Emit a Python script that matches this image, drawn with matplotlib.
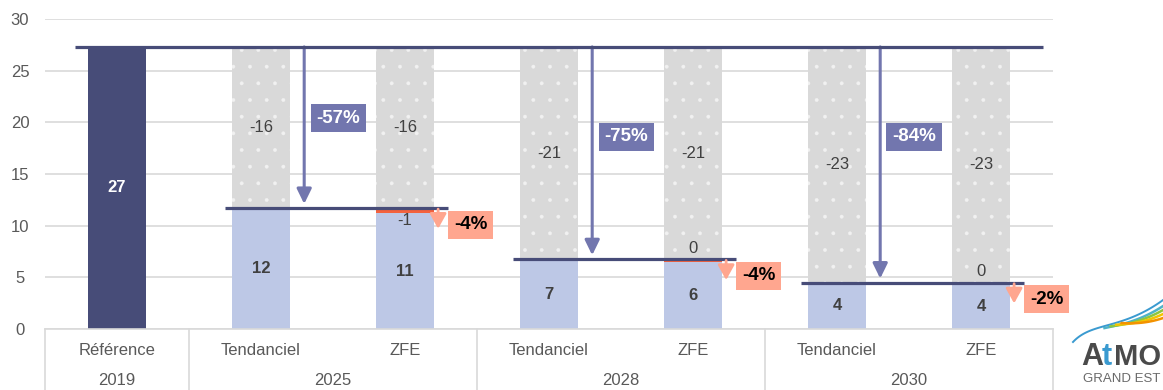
import numpy as np
import matplotlib.pyplot as plt
import matplotlib.transforms as mtransforms

plt.rcParams['font.family'] = ['Liberation Sans', 'DejaVu Sans']
plt.rcParams['hatch.linewidth'] = 0.3

# emissions (kt) par scénario
categories = ["Référence", "Tendanciel", "ZFE", "Tendanciel", "ZFE", "Tendanciel", "ZFE"]
years = ["2019", "2025", "2028", "2030"]
reference = 27.3
tendanciel = [11.7, 6.74, 4.48]
zfe = [11.18, 6.47, 4.39]

NAVY = "#474C78"
LIGHT = "#BDC8E6"
GREY = "#D9D9D9"
RED = "#F4623E"
ARROW = "#7276AE"
SALMON = "#FFA68F"
TEXT = "#404040"
AXTXT = "#595959"
DOTS = "#F1F1F1"

W, H = 1163, 390
fig = plt.figure(figsize=(W / 100, H / 100), dpi=100)
ax = fig.add_axes([45 / W, 61 / H, 1008 / W, 310 / H])
ax.set_xlim(-0.5, 6.5)
ax.set_ylim(0, 30)

bw = 0.4

# barre de référence
ax.bar(0, reference, bw, color=NAVY, zorder=2)
ax.text(0, reference / 2, f"{round(reference)}", ha='center', va='center',
        color='white', fontsize=12, fontweight='bold', zorder=5)

for i, (t, z) in enumerate(zip(tendanciel, zfe)):
    xt, xz = 1 + 2 * i, 2 + 2 * i
    gain = reference - t
    # tendanciel
    ax.bar(xt, t, bw, color=LIGHT, zorder=2)
    ax.bar(xt, gain, bw, bottom=t, color=GREY, hatch='.', edgecolor=DOTS,
           linewidth=0, zorder=2)
    # ZFE
    ax.bar(xz, z, bw, color=LIGHT, zorder=2)
    ax.bar(xz, t - z, bw, bottom=z, color=RED, linewidth=0, zorder=2)
    ax.bar(xz, gain, bw, bottom=t, color=GREY, hatch='.', edgecolor=DOTS,
           linewidth=0, zorder=2)

    for xb in (xt, xz):
        ax.text(xb, t + gain / 2, f"{-round(gain)}", ha='center', va='center',
                color=TEXT, fontsize=12, zorder=5)
    ax.text(xt, t / 2, f"{round(t)}", ha='center', va='center',
            color=TEXT, fontsize=12, fontweight='bold', zorder=5)
    ax.text(xz, z / 2, f"{round(z)}", ha='center', va='center',
            color=TEXT, fontsize=12, fontweight='bold', zorder=5)

    # écart ZFE / tendanciel
    dy = -12 if i == 0 else 11
    ax.annotate(f"{round(z - t)}", xy=(xz, t), xytext=(0, dy / 1.389),
                textcoords='offset points', ha='center', va='center',
                color=TEXT, fontsize=12, zorder=5)

    # niveau tendanciel
    ax.plot([xt - 0.25, xz + 0.3], [t, t], color=NAVY, lw=2.3,
            solid_capstyle='butt', zorder=4)

    # flèche de baisse par rapport à 2019
    xa = xt + 0.3
    ax.annotate('', xy=(xa, t), xytext=(xa, reference),
                arrowprops=dict(arrowstyle='-|>,head_length=0.45,head_width=0.22',
                                color=ARROW, lw=2.2, shrinkA=0, shrinkB=3,
                                mutation_scale=20), zorder=4)
    pct = round((t / reference - 1) * 100)
    ypct = [20.4, 18.6, 18.6][i]
    ax.text(xa + 0.235, ypct, f"{pct}%", ha='center', va='center',
            color='white', fontsize=13.5, fontweight='bold', zorder=6,
            bbox=dict(boxstyle='square,pad=0.3', fc=ARROW, ec='none'))

    # flèche de baisse ZFE
    xs = xz + 0.23
    ax.annotate('', xy=(xs, t - 2.0), xytext=(xs, t - 0.1),
                arrowprops=dict(arrowstyle='-|>,head_length=0.45,head_width=0.25',
                                color=SALMON, lw=2.0, shrinkA=0, shrinkB=0,
                                mutation_scale=20), zorder=4)
    zp = round((z / t - 1) * 100)
    ax.text(xz + 0.455, t - 1.6, f"{zp}%", ha='center', va='center',
            color='black', fontsize=13.5, fontweight='bold', zorder=6,
            bbox=dict(boxstyle='square,pad=0.3', fc=SALMON, ec='none'))

# niveau 2019
ax.plot([-0.29, 6.43], [reference, reference], color=NAVY, lw=2.3,
        solid_capstyle='butt', zorder=4)

# axes
for s in ('top', 'right', 'left'):
    ax.spines[s].set_visible(False)
ax.spines['bottom'].set_color(GREY)
ax.spines['bottom'].set_linewidth(1.2)
ax.set_yticks(range(0, 31, 5))
ax.yaxis.grid(True, color=GREY, lw=1.2)
ax.set_axisbelow(True)
ax.tick_params(axis='y', length=0, pad=18, labelsize=12, labelcolor=AXTXT)
for lab in ax.get_yticklabels():
    lab.set_ha('center')
ax.set_xticks([])

trans = mtransforms.blended_transform_factory(ax.transData, ax.transAxes)
for k, c in enumerate(categories):
    ax.annotate(c, xy=(k, 0), xycoords=trans, xytext=(0, -22 / 1.389),
                textcoords='offset points', ha='center', va='center',
                color=AXTXT, fontsize=12, annotation_clip=False)
for yr, xc in zip(years, [0, 1.5, 3.5, 5.5]):
    ax.annotate(yr, xy=(xc, 0), xycoords=trans, xytext=(0, -52 / 1.389),
                textcoords='offset points', ha='center', va='center',
                color=AXTXT, fontsize=12, annotation_clip=False)
for xsep in [-0.5, 0.5, 2.5, 4.5, 6.5]:
    ax.plot([xsep, xsep], [0, -0.25], transform=trans, color=GREY, lw=1.2,
            clip_on=False)

# logo
lg = fig.add_axes([0, 0, 1, 1], zorder=10)
lg.set_xlim(0, W)
lg.set_ylim(H, 0)
lg.axis('off')
lg.patch.set_alpha(0)


def wave(u):
    return 342 - 16 * (1 - np.exp(-6 * u)) - 26 * u ** 2.5


uu = np.linspace(0, 1, 80)
lg.plot(1073 + 90 * uu, wave(uu), color="#3A9AD0", lw=1.4)
for col, u0, off in [("#4FB3C8", 0.35, 4), ("#8DC63F", 0.42, 8),
                     ("#F2C500", 0.48, 12), ("#F39200", 0.54, 16)]:
    u = np.linspace(u0, 1, 50)
    lg.plot(1073 + 90 * u, wave(u) + off * (u - u0) / (1 - u0) + 2,
            color=col, lw=1.8)
lg.text(1081, 357, "A", color="#4A4A4A", fontsize=22, fontweight='bold',
        va='center', ha='left')
lg.text(1102, 357, "t", color="#3A9AD0", fontsize=22, fontweight='bold',
        va='center', ha='left')
lg.text(1114, 357, "MO", color="#4A4A4A", fontsize=21, fontweight='bold',
        va='center', ha='left')
lg.text(1083, 379, "GRAND EST", color="#6A6A6A", fontsize=9.5,
        va='center', ha='left')

fig.savefig("out.png", dpi=100)
